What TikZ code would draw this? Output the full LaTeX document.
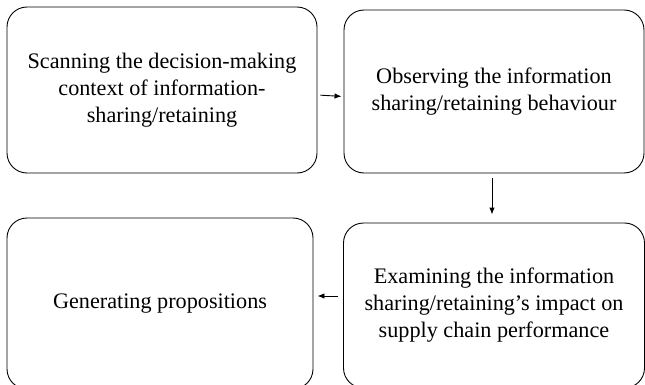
\documentclass[tikz,border=0pt]{standalone}
\usepackage{fontspec}
\setmainfont{Liberation Serif}
\usetikzlibrary{arrows.meta,calc}
\begin{document}
\begin{tikzpicture}[x=1pt,y=-1pt,
  stepbox/.style={draw, line width=0.9pt, rounded corners=20pt, inner sep=0pt, align=center,
    font=\fontsize{22.2}{27}\selectfont},
  conn/.style={line width=0.9pt, -{Latex[length=7pt,width=5.5pt]}}]
\useasboundingbox (0,0) rectangle (645,385);
\begin{scope}
\clip (0,0) rectangle (645,385);
\node[stepbox, minimum width=310pt, minimum height=166pt] (b1) at (162,90)
  {Scanning the decision-making\\context of information-\\sharing/retaining};
\node[stepbox, minimum width=300pt, minimum height=163pt] (b2) at (494,91.5)
  {Observing the information\\sharing/retaining behaviour};
\node[stepbox, minimum width=306pt, minimum height=171pt] (b3) at (160,303.5)
  {Generating propositions};
\node[stepbox, minimum width=301pt, minimum height=165pt] (b4) at (494,305.5)
  {Examining the information\\sharing/retaining’s impact on\\supply chain performance};
\end{scope}
\draw[conn, shorten <=3pt, shorten >=2pt] ($(b1.east)+(0,5)$) -- ($(b2.west)+(0,5)$);
\draw[conn, shorten <=5pt, shorten >=8pt] ($(b2.south)+(-2,0)$) -- ($(b4.north)+(-2,0)$);
\draw[conn, shorten <=5pt, shorten >=4pt] ($(b4.west)+(0,-9.5)$) -- ($(b3.east)+(0,-7.5)$);
\end{tikzpicture}
\end{document}
